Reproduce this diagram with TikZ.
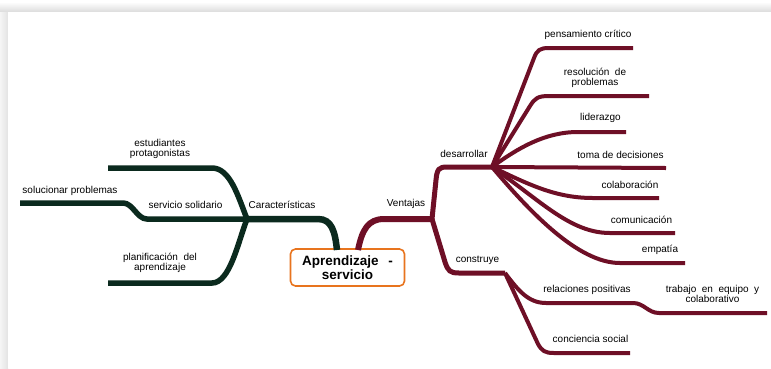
\documentclass[tikz,border=0pt]{standalone}
\usepackage{fontspec}
\setmainfont{Liberation Sans}
\definecolor{mgreen}{HTML}{0B2A1E}
\definecolor{mred}{HTML}{6E0F26}
\definecolor{morange}{HTML}{E8741E}
\begin{document}
\begin{tikzpicture}[x=1pt,y=-1pt,
  lbl/.style={inner sep=0pt,font=\fontsize{10}{10}\selectfont,align=center},
  gmain/.style={draw=mgreen,line width=6.5pt},
  gsub/.style={draw=mgreen,line width=5.5pt},
  rmain/.style={draw=mred,line width=6pt},
  rmid/.style={draw=mred,line width=5pt},
  rsub/.style={draw=mred,line width=4pt},
  centre/.style={draw=morange,line width=1.6pt,rounded corners=5pt,fill=white,
    minimum width=114pt,minimum height=37pt,inner sep=0pt,align=center,
    font=\fontsize{13.5}{14}\selectfont\bfseries}]
\useasboundingbox (0,0) rectangle (771,368);
% page shadow
\shade[top color=white,bottom color=gray!28] (0,2) rectangle (771,12);
\shade[left color=gray!8,right color=gray!22] (0,12) rectangle (8,368);
\fill[white] (8,12) rectangle (771,368);

% central node
\node[centre] (C) at (347.5,267.5) {Aprendizaje\ \ \,-\\servicio};
\coordinate (Cl) at (337,250);
\coordinate (Cr) at (358,250);

% left junctions and ends
\coordinate (J1) at (247,219);
\coordinate (E1) at (108,168);
\coordinate (E2) at (20,203);
\coordinate (E3) at (108,283);

% right junctions and ends
\coordinate (J2) at (432,219);
\coordinate (J3) at (492,167);
\coordinate (J4) at (505,273);
\coordinate (R1) at (633,48);
\coordinate (R2) at (649,96);
\coordinate (R3) at (626,132);
\coordinate (R4) at (666,168);
\coordinate (R5) at (659,198);
\coordinate (R6) at (675,233);
\coordinate (R7) at (685,263);
\coordinate (R8) at (767,313);
\coordinate (R9) at (630,353);

% ---- left (green) ----
\path[gmain] (Cl) .. controls (335,232) and (332,219) .. (318,219) -- (J1);
\path[gsub] (J1) .. controls (238,196) and (230,168) .. (212,168) -- (E1);
\path[gsub] (J1) -- (147,219) .. controls (137,219) and (133,203) .. (123,203) -- (E2);
\path[gsub] (J1) .. controls (238,242) and (230,283) .. (212,283) -- (E3);

% ---- right (maroon) ----
\path[rmain] (Cr) .. controls (362,230) and (368,219) .. (384,219) -- (J2);
\path[rmid] (J2) -- (436,180) .. controls (437,169) and (439,167) .. (447,167) -- (J3);
\path[rmid] (J2) -- (445,262) .. controls (448,271) and (450,273) .. (459,273) -- (J4);

\path[rsub] (J3) -- (534,58) .. controls (537,50) and (540,48) .. (549,48) -- (R1);
\path[rsub] (J3) -- (530,106) .. controls (535,98) and (538,96) .. (549,96) -- (R2);
\path[rsub] (J3) .. controls (518,148) and (545,132) .. (578,132) -- (R3);
\path[rsub] (J3) -- (R4);
\path[rsub] (J3) .. controls (528,184) and (555,198) .. (593,198) -- (R5);
\path[rsub] (J3) .. controls (540,200) and (570,233) .. (610,233) -- (R6);
\path[rsub] (J3) .. controls (530,212) and (578,263) .. (620,263) -- (R7);

\path[rsub] (J4) .. controls (518,290) and (528,303) .. (546,303) -- (633,303)
   .. controls (644,303) and (648,313) .. (659,313) -- (R8);
\path[rsub] (J4) -- (538,344) .. controls (542,351) and (545,353) .. (554,353) -- (R9);

% ---- labels ----
\node[lbl,anchor=base] (caract) at (282,208) {Características};
\node[lbl,anchor=base] (estud) at (160,156.5) {estudiantes\\protagonistas};
\node[lbl,anchor=base] (soluc) at (70,193) {solucionar problemas};
\node[lbl,anchor=base] (serv) at (185.5,208) {servicio solidario};
\node[lbl,anchor=base] (plan) at (160,270) {planificación\ \ del\\aprendizaje};

\node[lbl,anchor=base] (vent) at (406,206.5) {Ventajas};
\node[lbl,anchor=base] (desa) at (464,157) {desarrollar};
\node[lbl,anchor=base] (pens) at (588,37) {pensamiento crítico};
\node[lbl,anchor=base] (reso) at (595,85) {resolución\ \ de\\problemas};
\node[lbl,anchor=base] (lide) at (600.5,120.5) {liderazgo};
\node[lbl,anchor=base] (toma) at (620.5,158) {toma de decisiones};
\node[lbl,anchor=base] (cola) at (630,188) {colaboración};
\node[lbl,anchor=base] (comu) at (641.5,223) {comunicación};
\node[lbl,anchor=base] (empa) at (660,252.5) {empatía};
\node[lbl,anchor=base] (cons) at (477.5,262) {construye};
\node[lbl,anchor=base] (rela) at (587,292.5) {relaciones positivas};
\node[lbl,anchor=base] (trab) at (712.5,302.5) {trabajo\ \ en\ \ equipo\ \ y\\colaborativo};
\node[lbl,anchor=base] (conc) at (590.5,342.5) {conciencia social};
\end{tikzpicture}
\end{document}
